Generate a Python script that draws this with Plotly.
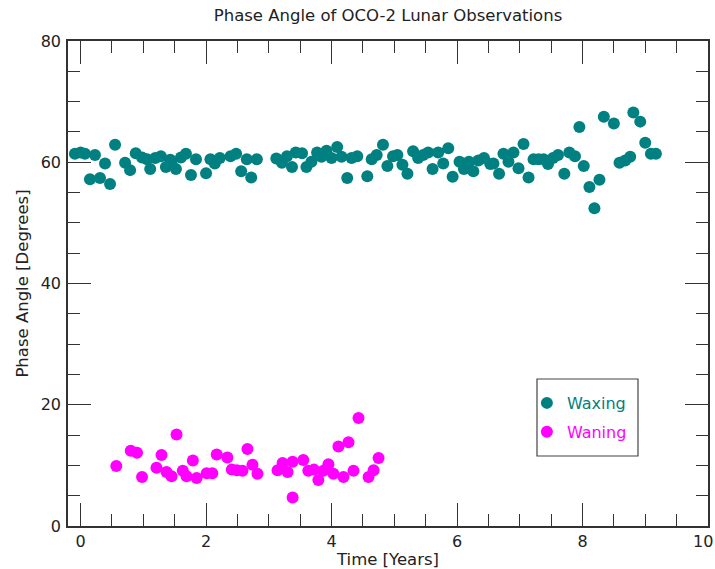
import plotly.graph_objects as go

# Waxing-phase observations: time since start [years], phase angle [degrees]
waxing_time = [
    -0.09, 0.00, 0.07, 0.15, 0.23, 0.31, 0.39, 0.47, 0.55, 0.71,
    0.79, 0.88, 0.98, 1.06, 1.11, 1.19, 1.28, 1.36, 1.43, 1.45,
    1.52, 1.60, 1.68, 1.76, 1.84, 2.00, 2.07, 2.14, 2.22, 2.39,
    2.48, 2.56, 2.65, 2.72, 2.81, 3.12, 3.21, 3.29, 3.37, 3.43,
    3.53, 3.60, 3.68, 3.77, 3.84, 3.92, 4.00, 4.09, 4.16, 4.25,
    4.32, 4.41, 4.57, 4.64, 4.72, 4.82, 4.89, 4.98, 5.05, 5.13,
    5.21, 5.30, 5.38, 5.46, 5.54, 5.61, 5.70, 5.78, 5.86, 5.93,
    6.04, 6.11, 6.19, 6.26, 6.34, 6.43, 6.53, 6.58, 6.67, 6.74,
    6.82, 6.90, 6.98, 7.06, 7.14, 7.22, 7.30, 7.38, 7.45, 7.53,
    7.61, 7.71, 7.79, 7.88, 7.95, 8.02, 8.11, 8.19, 8.27, 8.34,
    8.50, 8.59, 8.68, 8.76, 8.81, 8.92, 9.00, 9.09, 9.17,
]
waxing_angle = [
    61.4, 61.6, 61.4, 57.2, 61.2, 57.4, 59.8, 56.4, 62.9, 59.9,
    58.7, 61.5, 60.8, 60.5, 58.9, 60.7, 61.0, 59.2, 60.4, 59.8,
    58.9, 60.8, 61.4, 57.9, 60.5, 58.2, 60.5, 59.8, 60.7, 61.0,
    61.4, 58.5, 60.5, 57.5, 60.5, 60.6, 59.9, 61.0, 59.2, 61.6,
    61.5, 59.2, 60.1, 61.6, 60.9, 61.9, 60.7, 62.5, 60.9, 57.4,
    60.7, 61.0, 57.7, 60.5, 61.2, 62.9, 59.4, 61.0, 61.2, 59.6,
    58.1, 61.8, 60.7, 61.2, 61.6, 58.9, 61.6, 59.8, 62.3, 57.6,
    60.1, 58.9, 60.1, 58.5, 60.3, 60.7, 59.7, 59.8, 58.1, 61.4,
    60.1, 61.6, 59.0, 63.0, 57.5, 60.5, 60.5, 60.5, 59.7, 60.7,
    61.2, 58.1, 61.6, 61.0, 65.8, 59.4, 55.9, 52.4, 57.1, 67.5,
    66.4, 59.9, 60.3, 60.9, 68.2, 66.7, 63.2, 61.4, 61.4,
]

# Waning-phase observations
waning_time = [
    0.57, 0.80, 0.90, 0.98, 1.21, 1.29, 1.37, 1.45, 1.53, 1.63,
    1.69, 1.79, 1.85, 2.01, 2.10, 2.17, 2.34, 2.41, 2.49, 2.58,
    2.66, 2.74, 2.82, 3.14, 3.22, 3.30, 3.38, 3.38, 3.55, 3.63,
    3.72, 3.79, 3.87, 3.95, 4.03, 4.11, 4.19, 4.27, 4.35, 4.43,
    4.59, 4.67, 4.75,
]
waning_angle = [
    9.9, 12.4, 12.1, 8.1, 9.6, 11.7, 8.9, 8.2, 15.1, 9.1,
    8.2, 10.8, 7.9, 8.7, 8.7, 11.8, 11.3, 9.3, 9.2, 9.1,
    12.7, 10.1, 8.6, 9.2, 10.4, 8.9, 10.6, 4.7, 10.9, 9.1,
    9.3, 7.6, 9.1, 10.2, 8.6, 13.1, 8.1, 13.8, 9.1, 17.8,
    8.1, 9.2, 11.2,
]

# Axis tick positions and labels
x_ticks = [0, 2, 4, 6, 8, 10]
x_labels = ["0", "2", "4", "6", "8", "10"]
y_ticks = [0, 20, 40, 60, 80]

TEAL = "#008080"
MAGENTA = "#ff00ff"
FONT = "DejaVu Sans"
INK = "#222222"
AXIS = "#333333"

fig = go.Figure()
fig.add_trace(go.Scatter(
    x=waxing_time, y=waxing_angle, mode="markers",
    name=f"<span style='color:{TEAL}'>Waxing</span>",
    legendgroup="waxing",
    marker=dict(color=TEAL, size=12, line=dict(width=0)),
))
fig.add_trace(go.Scatter(
    x=waning_time, y=waning_angle, mode="markers",
    name=f"<span style='color:{MAGENTA}'>Waning</span>",
    legendgroup="waning",
    marker=dict(color=MAGENTA, size=12, line=dict(width=0)),
))

axis_common = dict(
    showgrid=False, zeroline=False,
    showline=True, linecolor=AXIS, linewidth=1.5, mirror="allticks",
    ticks="inside", ticklen=23, tickwidth=1.3, tickcolor=AXIS,
    tickfont=dict(family=FONT, size=16, color=INK),
    automargin=False,
)

# The last x label sits at the right edge of the page; keep it fully inside
fig.add_annotation(
    x=x_ticks[-1], xref="x", xanchor="right", xshift=7,
    y=0, yref="paper", yanchor="middle", yshift=-15,
    text=x_labels[-1], showarrow=False,
    font=dict(family=FONT, size=16, color=INK),
)

# Frame around the legend entries
fig.add_shape(
    type="rect", xref="paper", yref="paper",
    x0=0.7328, x1=0.8906, y0=0.1443, y1=0.3031,
    line=dict(color="#444444", width=1.2), fillcolor="rgba(0,0,0,0)",
    layer="above",
)

fig.update_layout(
    width=715, height=569,
    margin=dict(l=68, r=7, t=41, b=43, autoexpand=False),
    paper_bgcolor="white", plot_bgcolor="white",
    font=dict(family=FONT, color=INK),
    title=dict(
        text="Phase Angle of OCO-2 Lunar Observations",
        x=0.5, xref="paper", xanchor="center",
        y=0.973, yref="container", yanchor="middle",
        font=dict(family=FONT, size=16.5, color=INK),
    ),
    xaxis=dict(
        range=[-0.2, 10], tickvals=x_ticks,
        ticktext=x_labels[:-1] + [""],
        minor=dict(dtick=0.5, ticks="inside", ticklen=12, tickwidth=1.3, tickcolor=AXIS),
        title=dict(text="Time [Years]", font=dict(family=FONT, size=16.5, color=INK), standoff=1),
        **axis_common,
    ),
    yaxis=dict(
        range=[0, 80], tickvals=y_ticks,
        minor=dict(dtick=5, ticks="inside", ticklen=12, tickwidth=1.3, tickcolor=AXIS),
        title=dict(text="Phase Angle [Degrees]", font=dict(family=FONT, size=16.5, color=INK), standoff=8),
        ticklabelstandoff=2,
        **axis_common,
    ),
    legend=dict(
        x=0.717, y=0.2887, xanchor="left", yanchor="top",
        borderwidth=0, bgcolor="rgba(0,0,0,0)",
        font=dict(family=FONT, size=16),
        tracegroupgap=5, itemsizing="constant",
    ),
    showlegend=True,
)

fig.write_html("out.html")
